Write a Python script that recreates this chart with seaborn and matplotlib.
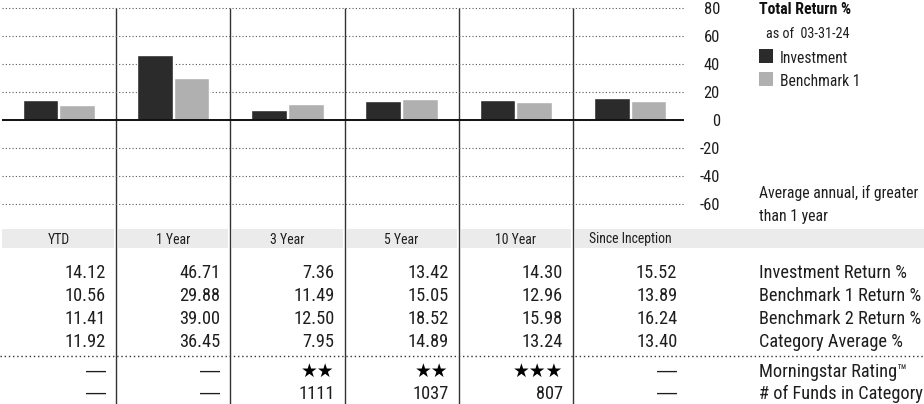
import numpy as np
import pandas as pd
import matplotlib
matplotlib.use("Agg")
import matplotlib.pyplot as plt
import seaborn as sns
from matplotlib.patches import Rectangle
from matplotlib import font_manager
from matplotlib.font_manager import FontProperties

# ---------------- data ----------------
periods = ["YTD", "1 Year", "3 Year", "5 Year", "10 Year", "Since Inception"]
investment = [14.12, 46.71, 7.36, 13.42, 14.30, 15.52]
benchmark1 = [10.56, 29.88, 11.49, 15.05, 12.96, 13.89]
benchmark2 = [11.41, 39.00, 12.50, 18.52, 15.98, 16.24]
category_avg = [11.92, 36.45, 7.95, 14.89, 13.24, 13.40]
star_ratings = [None, None, 2, 2, 3, None]
funds_in_category = [None, None, 1111, 1037, 807, None]
row_labels = ["Investment Return %", "Benchmark 1 Return %", "Benchmark 2 Return %",
              "Category Average %", "Morningstar Rating\u2122", "# of Funds in Category"]
yticks = [-60, -40, -20, 0, 20, 40, 60, 80]
series_names = ["Investment", "Benchmark 1"]
series_colors = ["#2b2b2b", "#b0b0b0"]
legend_title = "Total Return %"
legend_subtitle = "as of  03-31-24"
footnote = ["Average annual, if greater", "than 1 year"]
EMPTY = "\u2014"

df = pd.DataFrame({
    "period": periods * 2,
    "series": [series_names[0]] * len(periods) + [series_names[1]] * len(periods),
    "value": investment + benchmark1,
})

# ---------------- style ----------------
sns.set_theme(style="white")
plt.rcParams["axes.unicode_minus"] = False


def pick_font():
    """Prefer an installed condensed sans face; fall back to Liberation Sans."""
    prefs = ["Liberation Sans Narrow", "Roboto Condensed", "Noto Sans", "Open Sans",
             "DejaVu Sans", "Roboto"]
    found = {}
    for f in font_manager.fontManager.ttflist:
        st = f.stretch
        cond = (isinstance(st, str) and "condensed" in st and "semi" not in st) or \
               (isinstance(st, (int, float)) and st <= 300) or \
               "Condensed" in f.name or "Narrow" in f.name
        if cond and f.style == "normal" and f.weight in (400, "normal", "regular", "book"):
            found.setdefault(f.name, f)
    for p in prefs:
        if p in found:
            return found[p].name, found[p].stretch
    if found:
        f = next(iter(found.values()))
        return f.name, f.stretch
    return "Liberation Sans", "normal"


FAM, STRETCH = pick_font()
plt.rcParams["font.family"] = [FAM, "DejaVu Sans"]
TXT = "#1e1e1e"

W, H = 924, 404
fig = plt.figure(figsize=(W / 100, H / 100), dpi=100)
renderer = fig.canvas.get_renderer()


def fp(size=10, weight="normal", family=None, stretch=None):
    fam = [FAM, "DejaVu Sans"] if family is None else family
    return FontProperties(family=fam, stretch=STRETCH if stretch is None else stretch,
                          weight=weight, size=size)


def fit(pairs, weight="normal", family=None, stretch=None):
    """Font size (pt) so the given strings reach the widths they have in the reference."""
    sizes = []
    for s, target in pairs:
        w, _, _ = renderer.get_text_width_height_descent(
            s, fp(10, weight, family, stretch), ismath=False)
        sizes.append(10 * target / w)
    return min(sizes)


S_ROW = min(fit([(row_labels[0], 150), (row_labels[5], 163)]), fit([("14.12", 40)]) * 1.05)
S_HEAD = fit([("1 Year", 34), ("Since Inception", 87)])
S_TICK = fit([("80", 16), ("-60", 21)])
S_TITLE = fit([(legend_title, 92)], "bold")
S_SUB = fit([(legend_subtitle, 83)])
S_LEG = fit([("Investment", 68), ("Benchmark 1", 80)])
S_FOOT = fit([(footnote[0], 158)])
DASH_FAM = ["Liberation Sans", "DejaVu Sans"]
S_DASH = fit([(EMPTY, 20)], family=DASH_FAM, stretch="normal")


def fx(px):
    return px / W


def fy(py):
    return 1 - py / H


X0, CW = 1.75, 114.25        # column origin and width (px)
AX_R = 684                   # right end of chart axes (px)
Y_TOP, Y_BOT = 8, 204        # pixel rows of 80 and -60
PPU = (Y_BOT - Y_TOP) / 140  # px per unit
PAD_U = 0.5

# overlay axes in pixel coordinates (table, separators, legend)
ov = fig.add_axes([0, 0, 1, 1], zorder=0)
ov.set_xlim(0, W)
ov.set_ylim(H, 0)
ov.axis("off")

# chart axes
ax = fig.add_axes([fx(X0), fy(Y_BOT + PAD_U * PPU), (AX_R - X0) / W,
                   (Y_BOT - Y_TOP + 2 * PAD_U * PPU) / H], zorder=1)
ax.set_facecolor("none")

sns.barplot(data=df, x="period", y="value", hue="series", order=periods,
            hue_order=series_names, palette=dict(zip(series_names, series_colors)),
            width=0.645, gap=0.03, saturation=1, legend=False, ax=ax, zorder=2)

ax.set_xlim(-0.5, (AX_R - X0) / CW - 0.5)
ax.set_ylim(-60 - PAD_U, 80 + PAD_U)
ax.set_xticks([])
ax.set_xlabel("")
ax.set_ylabel("")
ax.set_yticks(yticks)
ax.yaxis.tick_right()
ax.tick_params(axis="y", length=0, pad=(720 - AX_R) * 0.72, labelcolor=TXT)
for lab in ax.get_yticklabels():
    lab.set_ha("right")
    lab.set_fontproperties(fp(S_TICK))
ax.grid(axis="y", linestyle=(0, (1, 2)), color="#555555", lw=0.8)
ax.grid(axis="x", visible=False)
for s in ax.spines.values():
    s.set_visible(False)
ax.axhline(0, color="#111111", lw=1.4, zorder=3)

# vertical column separators
bounds = [X0 + CW * i for i in range(len(periods) + 1)]
for xb in bounds[1:-1]:
    ov.plot([xb, xb], [Y_TOP, H], color="#333333", lw=1.0, solid_capstyle="butt")

# header band
HB_T, HB_B = 229, 248
for i, p in enumerate(periods):
    left = bounds[i] + (2 if i > 0 else 0)
    right = bounds[i + 1] - 2 if i < len(periods) - 1 else W
    ov.add_patch(Rectangle((left, HB_T), right - left, HB_B - HB_T, color="#ebebeb", lw=0))
    ov.text((bounds[i] + bounds[i + 1]) / 2, 243.5, p, ha="center", va="baseline",
            fontproperties=fp(S_HEAD), color=TXT)

# table
baselines = [277.5, 300.8, 324.0, 347.3, 376.7, 399.0]
rows = [investment, benchmark1, benchmark2, category_avg]


def empty_cell(x, y):
    ov.text(x, y, EMPTY, ha="right", va="baseline",
            fontproperties=fp(S_DASH, family=DASH_FAM, stretch="normal"), color=TXT)


for r, vals in enumerate(rows):
    for i, v in enumerate(vals):
        ov.text(bounds[i + 1] - 10, baselines[r], f"{v:.2f}", ha="right", va="baseline",
                fontproperties=fp(S_ROW), color=TXT)
for i, n in enumerate(star_ratings):
    if n:
        ov.text(bounds[i + 1] - 10, baselines[4], "\u2605" * n, ha="right", va="baseline",
                fontsize=13.5, color="#000000", family="DejaVu Sans")
    else:
        empty_cell(bounds[i + 1] - 10, baselines[4])
for i, n in enumerate(funds_in_category):
    if n is None:
        empty_cell(bounds[i + 1] - 10, baselines[5])
    else:
        ov.text(bounds[i + 1] - 10, baselines[5], f"{n}", ha="right", va="baseline",
                fontproperties=fp(S_ROW), color=TXT)
for r, lab in enumerate(row_labels):
    ov.text(759, baselines[r], lab, ha="left", va="baseline", fontproperties=fp(S_ROW),
            color=TXT)

# dotted separator line
ov.plot([0, W], [356, 356], linestyle=(0, (1, 2)), color="#333333", lw=1.0)

# legend
ov.text(759, 13.5, legend_title, ha="left", va="baseline",
        fontproperties=fp(S_TITLE, "bold"), color="#111111")
ov.text(766, 38, legend_subtitle, ha="left", va="baseline", fontproperties=fp(S_SUB),
        color=TXT)
for k, (name, col) in enumerate(zip(series_names, series_colors)):
    top = 49 + 23 * k
    ov.add_patch(Rectangle((759, top), 14, 14, color=col, lw=0))
    ov.text(780, top + 14, name, ha="left", va="baseline", fontproperties=fp(S_LEG),
            color=TXT)
ov.text(759, 198, footnote[0], ha="left", va="baseline", fontproperties=fp(S_FOOT), color=TXT)
ov.text(759, 220.5, footnote[1], ha="left", va="baseline", fontproperties=fp(S_FOOT),
        color=TXT)

fig.savefig("out.png", dpi=100, facecolor="white")
